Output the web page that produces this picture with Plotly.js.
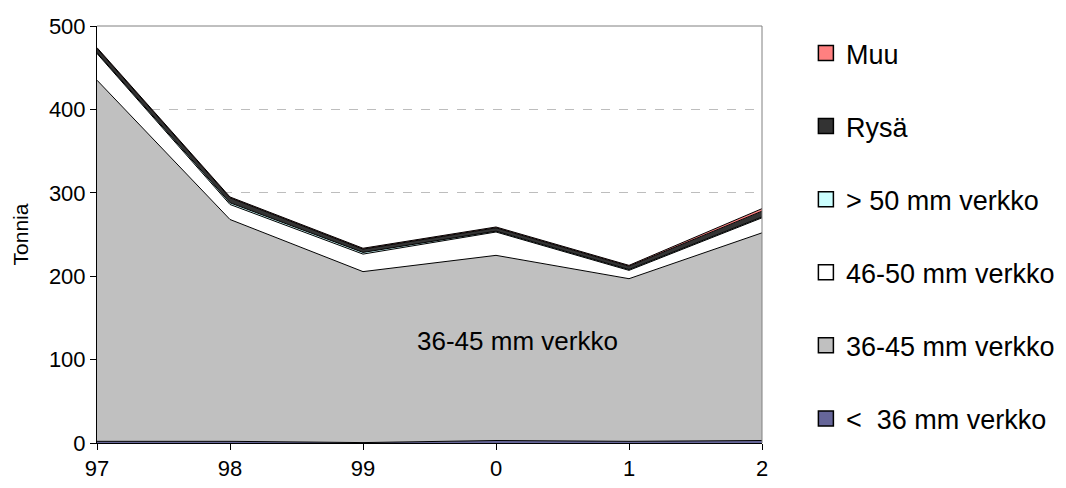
<!DOCTYPE html>
<html>
<head>
<meta charset="utf-8">
<script src="https://cdn.plot.ly/plotly-3.0.1.min.js"></script>
<style>html,body{margin:0;padding:0;background:#fff;}#chart{width:1066px;height:488px;}</style>
</head>
<body>
<div id="chart"></div>
<script>
const years = ['97', '98', '99', '0', '1', '2'];
const alle36 = [2, 2, 0.5, 3, 2, 3];
const v36_45 = [433, 266, 205, 222, 195, 249];
const v46_50 = [32, 18, 21, 28, 10, 18];
const yli50 = [1, 2, 2, 1, 1, 1];
const rysa = [5, 6, 4, 4, 4, 7];
const muu = [1, 1, 1, 1, 1, 3];

const seriesNames = ['<  36 mm verkko', '36-45 mm verkko', '46-50 mm verkko', '> 50 mm verkko', 'Rysä', 'Muu'];
const seriesValues = [alle36, v36_45, v46_50, yli50, rysa, muu];
const seriesColors = ['#666699', '#C0C0C0', '#FFFFFF', '#CCFFFF', '#333333', '#FF8080'];

const traces = [];
seriesNames.forEach((name, i) => {
  traces.push({
    x: years, y: seriesValues[i], type: 'scatter', mode: 'lines',
    stackgroup: 'one', fillcolor: seriesColors[i],
    line: {color: '#000000', width: 1}, showlegend: false, hoverinfo: 'skip'
  });
});
// legend entries (square markers)
for (let i = seriesNames.length - 1; i >= 0; i--) {
  traces.push({
    x: [null], y: [null], type: 'scatter', mode: 'markers', name: seriesNames[i],
    legendgroup: 'g' + i,
    marker: {symbol: 'square', size: 15, color: seriesColors[i], line: {color: '#000', width: 1.5}},
    showlegend: true
  });
}

const layout = {
  width: 1066, height: 488,
  margin: {l: 97, r: 304, t: 26, b: 45, autoexpand: false},
  paper_bgcolor: '#fff', plot_bgcolor: '#fff',
  font: {family: 'Liberation Sans, Arial, sans-serif', color: '#000', size: 22},
  showlegend: true,
  legend: {
    x: 1.066, xanchor: 'left', y: 0.993, yanchor: 'top',
    traceorder: 'grouped', tracegroupgap: 35,
    font: {size: 27}, itemwidth: 30, bgcolor: 'rgba(0,0,0,0)'
  },
  xaxis: {
    type: 'category', range: [0, 5], showgrid: false,
    showline: true, linecolor: '#000', linewidth: 1,
    ticks: 'outside', ticklen: 6, tickcolor: '#000',
    tickfont: {size: 22}, zeroline: false, fixedrange: true
  },
  yaxis: {
    range: [0, 500], dtick: 100, showgrid: true, gridcolor: '#BDBDBD', griddash: 'dash', gridwidth: 1,
    showline: true, linecolor: '#000', linewidth: 1,
    ticks: 'outside', ticklen: 6, tickcolor: '#000',
    tickfont: {size: 22}, zeroline: false,
    title: {text: 'Tonnia', font: {size: 21}, standoff: 14}
  },
  shapes: [
    {type: 'line', xref: 'paper', yref: 'paper', x0: 0, x1: 1, y0: 1, y1: 1, line: {color: '#808080', width: 1}},
    {type: 'line', xref: 'paper', yref: 'paper', x0: 1, x1: 1, y0: 0, y1: 1, line: {color: '#808080', width: 1}}
  ],
  annotations: [
    {x: 3.158, y: 122, xref: 'x', yref: 'y', text: '36-45 mm verkko', showarrow: false, font: {size: 26}}
  ]
};

Plotly.newPlot('chart', traces, layout, {staticPlot: true});
</script>
</body>
</html>
